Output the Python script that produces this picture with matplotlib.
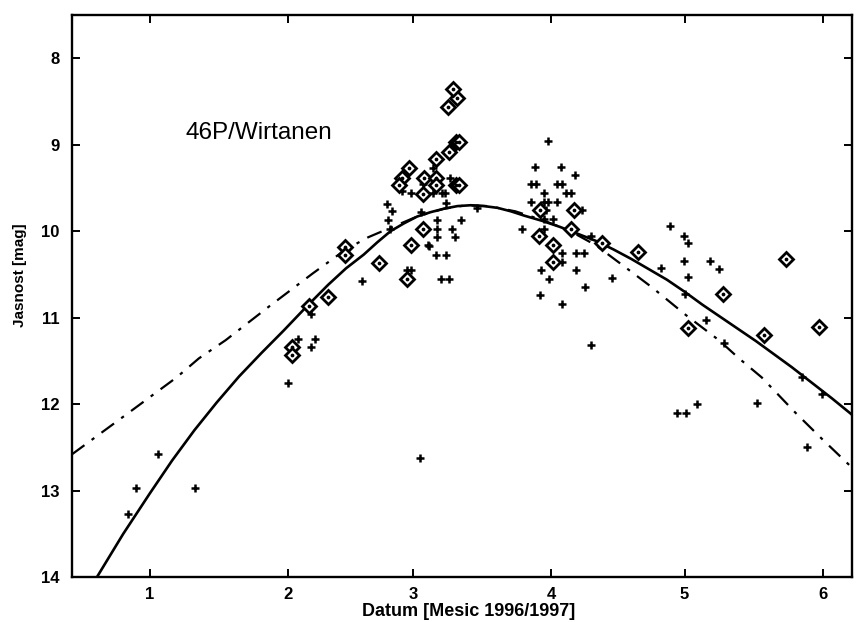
import numpy as np
import matplotlib
matplotlib.use("Agg")
import matplotlib.pyplot as plt

plt.rcParams['font.family'] = ['Liberation Sans', 'DejaVu Sans']

# x = days since 1 Jan 1997 (tick "1" = start of January), y = magnitude
month_ticks = [0, 31, 59, 90, 120, 151]
month_labels = ['1', '2', '3', '4', '5', '6']

# diamonds (observations with dot)
dia_day = [31.8, 32.0, 35.8, 39.9, 43.7, 43.7, 51.5, 56.5, 56.0, 58.2, 57.6, 58.7,
           61.6, 61.4, 61.4, 64.3, 64.3, 64.3, 67.2, 68.8, 69.4, 67.0, 69.0, 68.1,
           68.8, 69.4, 87.6, 87.4, 90.5, 90.5, 94.5, 95.2, 101.5, 109.5, 128.6,
           142.7, 120.7, 137.8, 150.1]
dia_mag = [11.34, 11.43, 10.87, 10.76, 10.18, 10.28, 10.37, 9.38, 9.47, 9.27, 10.55, 10.16,
           9.38, 9.57, 9.97, 9.17, 9.38, 9.47, 9.08, 8.97, 8.97, 8.57, 8.46, 8.36,
           9.47, 9.47, 9.76, 10.06, 10.16, 10.36, 9.97, 9.76, 10.14, 10.24, 10.73,
           10.32, 11.12, 11.20, 11.11]

# crosses
crs_day = [-4.9, -3.1, 1.8, 10.1,
           31.1, 33.2, 36.1, 37.0, 36.1, 47.7, 60.7,
           53.3, 54.4, 53.5, 53.8, 58.7, 56.5, 61.2, 60.9, 62.3, 57.8, 58.7,
           63.6, 67.4, 63.6, 65.6, 66.3, 66.5, 64.5, 69.9, 64.5, 67.7, 64.5, 68.5,
           62.7, 64.3, 66.5, 65.4, 67.2, 73.3,
           89.4, 86.5, 92.3, 95.4, 85.6, 86.7, 91.4, 92.5, 88.5, 93.4, 94.5, 85.6,
           88.5, 89.4, 91.4, 88.9, 97.0, 88.5, 90.5, 83.6, 88.5, 99.0, 92.5, 95.7,
           97.4, 92.5, 87.8, 95.7, 89.6, 103.7, 97.7, 87.6, 92.5, 99.0,
           116.7, 119.8, 120.7, 119.8, 125.7, 127.7, 114.7, 120.7, 120.1, 124.8,
           128.8, 118.3, 120.3, 122.8, 136.2, 146.3, 147.4, 150.8]
crs_mag = [13.27, 12.97, 12.57, 12.97,
           11.75, 11.25, 11.34, 11.25, 10.96, 10.57, 12.62,
           9.68, 9.77, 9.87, 9.98, 9.56, 9.53, 9.46, 9.78, 10.16, 10.45, 10.45,
           9.27, 9.38, 9.56, 9.56, 9.56, 9.67, 9.87, 9.87, 9.97, 9.97, 10.07, 10.07,
           10.17, 10.27, 10.27, 10.55, 10.55, 9.73,
           8.96, 9.26, 9.26, 9.35, 9.46, 9.46, 9.46, 9.46, 9.56, 9.56, 9.56, 9.66,
           9.66, 9.66, 9.66, 9.76, 9.76, 9.86, 9.86, 9.97, 9.97, 10.06, 10.25, 10.25,
           10.25, 10.36, 10.45, 10.45, 10.55, 10.54, 10.65, 10.74, 10.84, 11.32,
           9.94, 10.05, 10.14, 10.35, 10.35, 10.44, 10.43, 10.53, 10.73, 11.03,
           11.29, 12.10, 12.10, 12.00, 11.99, 11.69, 12.49, 11.88]

# solid model curve
sol_day = [-11.9, -6, 0, 5, 10, 15, 20, 25, 30, 35, 40, 44, 48, 51, 54, 57, 60, 63,
           66, 69, 72, 75, 78, 81, 84, 88, 92, 96, 100, 104, 108, 112, 116, 120, 124,
           128, 132, 136, 140, 144, 148, 153, 158]
sol_mag = [14.0, 13.5, 13.03, 12.65, 12.3, 11.98, 11.68, 11.41, 11.15, 10.88, 10.62,
           10.43, 10.27, 10.13, 10.0, 9.91, 9.83, 9.78, 9.74, 9.71, 9.70, 9.71, 9.73,
           9.77, 9.82, 9.88, 9.95, 10.03, 10.11, 10.21, 10.32, 10.44, 10.56, 10.70,
           10.85, 10.99, 11.13, 11.27, 11.42, 11.57, 11.73, 11.93, 12.14]

# dash-dot model curve
dd_day = [-17.5, -4, 6, 11, 17, 26.5, 36.5, 44, 49, 54, 60, 66, 71, 76, 82, 88, 94,
          100, 106, 112.7, 120.3, 127.7, 132.2, 137.3, 144.9, 151, 157.5]
dd_mag = [12.58, 12.07, 11.69, 11.47, 11.26, 10.88, 10.49, 10.21, 10.07, 9.96, 9.83,
          9.74, 9.70, 9.71, 9.77, 9.87, 9.99, 10.16, 10.39, 10.65, 10.97, 11.26, 11.47,
          11.69, 12.10, 12.41, 12.73]

fig = plt.figure(figsize=(8.56, 6.22), dpi=100)
ax = fig.add_axes([0.084, 0.072, 0.911, 0.904])

ax.plot(sol_day, sol_mag, color='black', lw=1.9)
ax.plot(dd_day, dd_mag, color='black', lw=1.6, linestyle=(0, (7, 4, 1.5, 4)))

ax.plot(crs_day, crs_mag, linestyle='none', marker='+', ms=5.5, mew=1.8, color='black')
ax.plot(dia_day, dia_mag, linestyle='none', marker='D', ms=6.8, mew=2.0,
        mfc='white', mec='black')
ax.plot(dia_day, dia_mag, linestyle='none', marker='o', ms=1.7, color='black')

ax.set_xlim(-17.5, 157.5)
ax.set_ylim(14, 7.5)
ax.set_xticks(month_ticks)
ax.set_xticklabels(month_labels)
ax.set_yticks([8, 9, 10, 11, 12, 13, 14])

for s in ax.spines.values():
    s.set_linewidth(1.7)
ax.tick_params(direction='in', length=6, width=1.4, top=True, right=True)
ax.tick_params(axis='y', pad=9)
ax.tick_params(axis='x', pad=7)
for lab in ax.get_xticklabels() + ax.get_yticklabels():
    lab.set_fontsize(12)
    lab.set_fontweight('bold')

ax.set_xlabel('Datum [Mesic 1996/1997]', fontsize=13, fontweight='bold')
ax.xaxis.set_label_coords(0.509, -0.046)
ax.set_ylabel('Jasnost [mag]', fontsize=11, fontweight='bold')
ax.yaxis.set_label_coords(-0.058, 0.537)

ax.text(0.24, 0.79, '46P/Wirtanen', transform=ax.transAxes, fontsize=17.5,
        ha='center', va='center')

fig.savefig('out.png', dpi=100)
